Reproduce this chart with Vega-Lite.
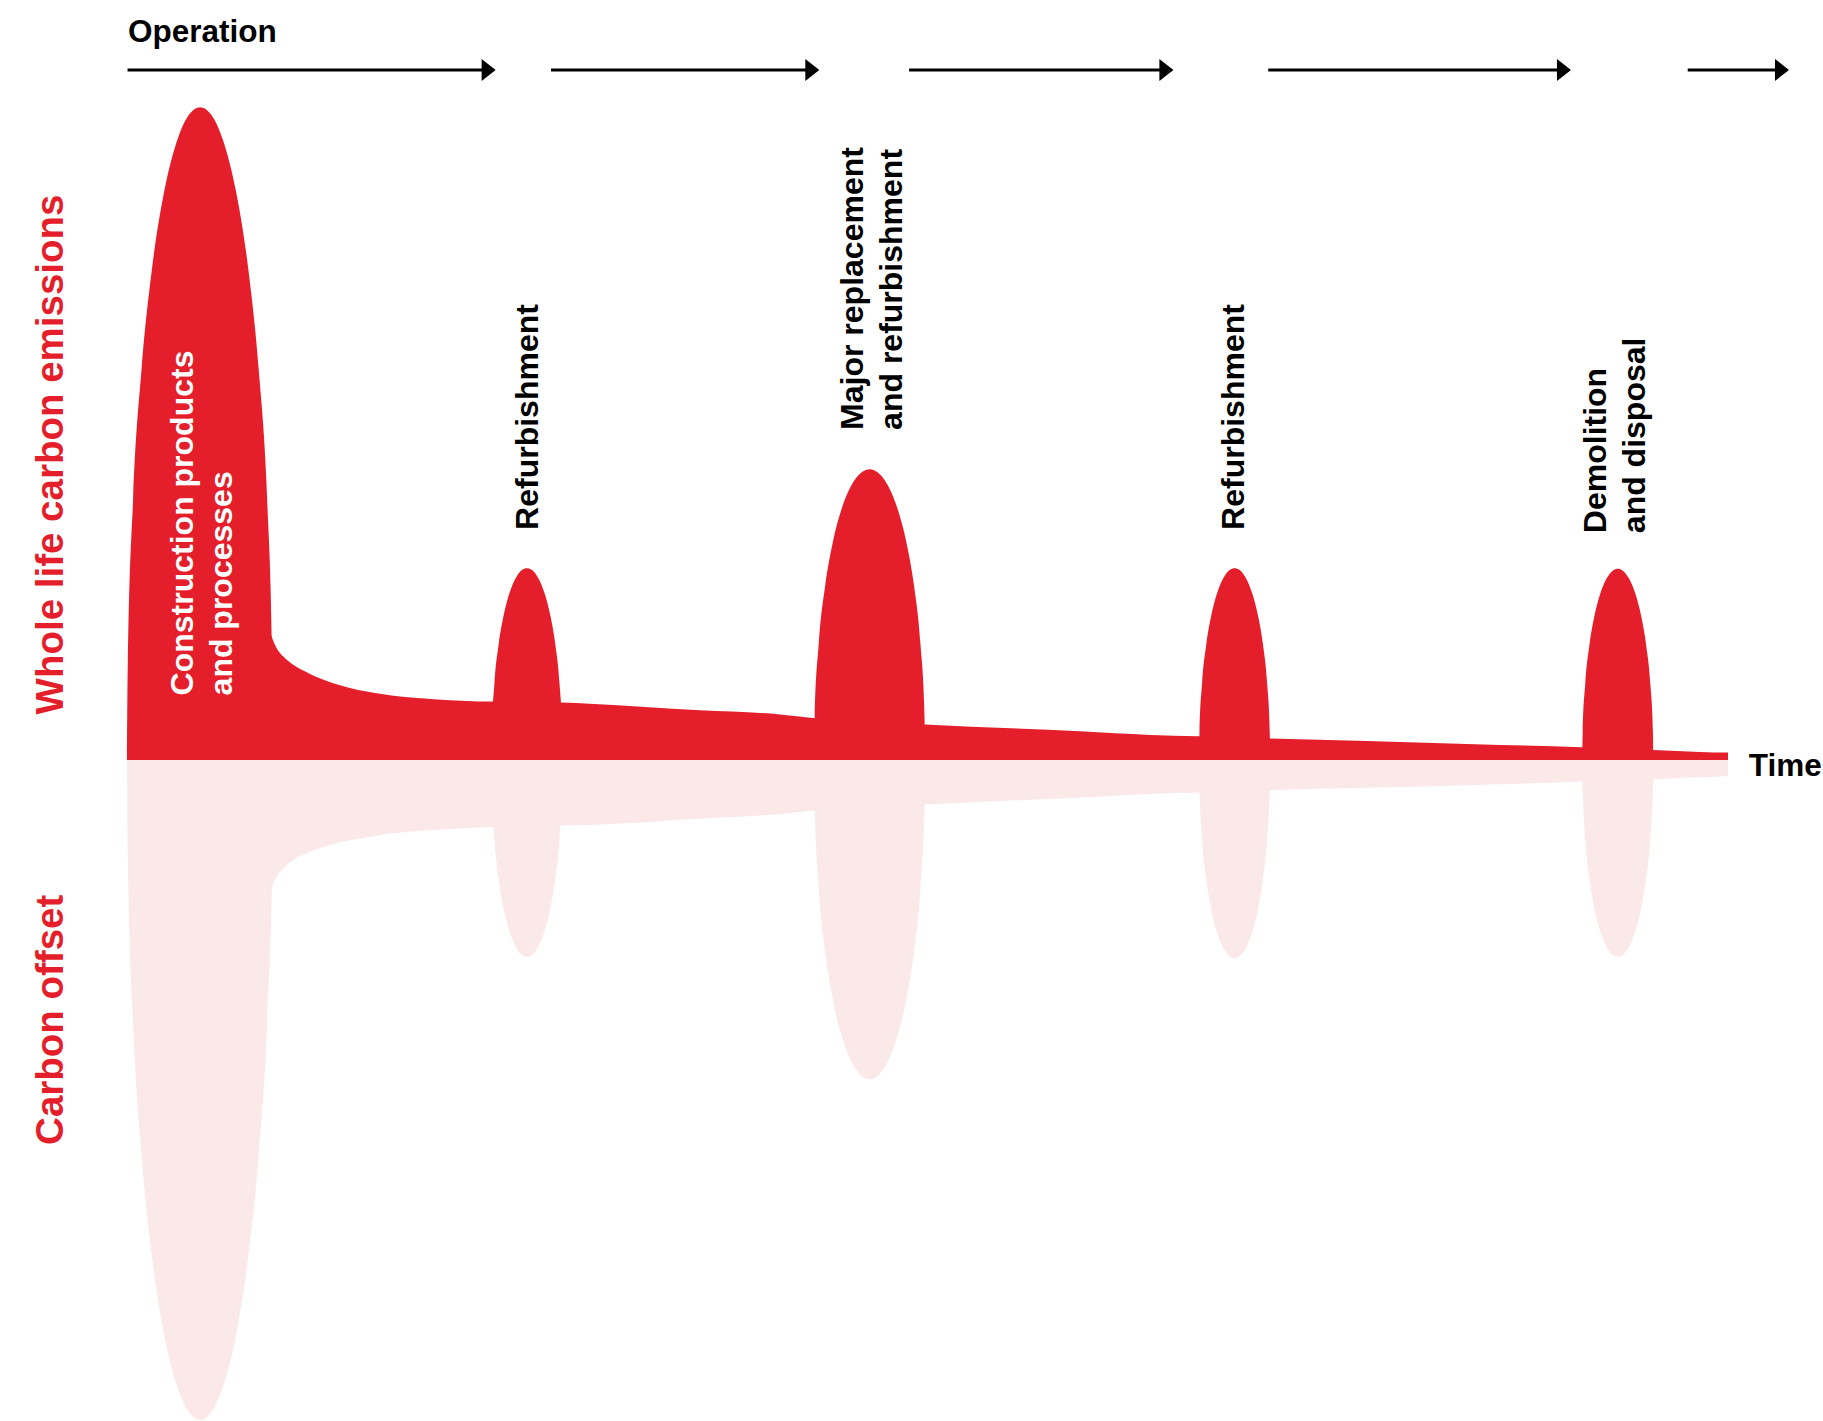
{
  "$schema": "https://vega.github.io/schema/vega-lite/v6.json",
  "width": 1601,
  "height": 1421,
  "autosize": {"type": "none"},
  "padding": {"left": 127, "right": 95, "top": 0, "bottom": 0},
  "background": "white",
  "config": {"view": {"stroke": null}},
  "encoding": {
    "x": {"field": "t", "type": "quantitative", "axis": null, "scale": {"domain": [0, 60], "nice": false, "zero": false}},
    "y": {"field": "v", "type": "quantitative", "axis": null, "scale": {"domain": [-101.7, 116.9], "nice": false, "zero": false}}
  },
  "layer": [
    {
      "data": {"values": [
        {"part": "E-base", "side": "Whole life carbon emissions", "t": 5.36, "v": 19.74},
        {"part": "E-base", "side": "Whole life carbon emissions", "t": 5.42, "v": 18.97},
        {"part": "E-base", "side": "Whole life carbon emissions", "t": 5.61, "v": 17.18},
        {"part": "E-base", "side": "Whole life carbon emissions", "t": 5.86, "v": 15.89},
        {"part": "E-base", "side": "Whole life carbon emissions", "t": 6.23, "v": 14.62},
        {"part": "E-base", "side": "Whole life carbon emissions", "t": 6.86, "v": 13.23},
        {"part": "E-base", "side": "Whole life carbon emissions", "t": 7.73, "v": 11.8},
        {"part": "E-base", "side": "Whole life carbon emissions", "t": 8.98, "v": 10.51},
        {"part": "E-base", "side": "Whole life carbon emissions", "t": 10.23, "v": 9.74},
        {"part": "E-base", "side": "Whole life carbon emissions", "t": 11.48, "v": 9.34},
        {"part": "E-base", "side": "Whole life carbon emissions", "t": 12.73, "v": 9.08},
        {"part": "E-base", "side": "Whole life carbon emissions", "t": 13.63, "v": 8.97},
        {"part": "E-base", "side": "Whole life carbon emissions", "t": 16.29, "v": 8.82},
        {"part": "E-base", "side": "Whole life carbon emissions", "t": 17.35, "v": 8.62},
        {"part": "E-base", "side": "Whole life carbon emissions", "t": 21.48, "v": 7.62},
        {"part": "E-base", "side": "Whole life carbon emissions", "t": 24.47, "v": 7.0},
        {"part": "E-base", "side": "Whole life carbon emissions", "t": 25.71, "v": 6.46},
        {"part": "E-base", "side": "Whole life carbon emissions", "t": 29.91, "v": 5.45},
        {"part": "E-base", "side": "Whole life carbon emissions", "t": 35.72, "v": 4.4},
        {"part": "E-base", "side": "Whole life carbon emissions", "t": 38.34, "v": 3.85},
        {"part": "E-base", "side": "Whole life carbon emissions", "t": 40.15, "v": 3.65},
        {"part": "E-base", "side": "Whole life carbon emissions", "t": 42.84, "v": 3.28},
        {"part": "E-base", "side": "Whole life carbon emissions", "t": 46.47, "v": 2.92},
        {"part": "E-base", "side": "Whole life carbon emissions", "t": 51.46, "v": 2.31},
        {"part": "E-base", "side": "Whole life carbon emissions", "t": 54.5, "v": 1.95},
        {"part": "E-base", "side": "Whole life carbon emissions", "t": 57.19, "v": 1.54},
        {"part": "E-base", "side": "Whole life carbon emissions", "t": 58.96, "v": 1.23},
        {"part": "E-base", "side": "Whole life carbon emissions", "t": 60, "v": 1.12},

        {"part": "E-p1", "side": "Whole life carbon emissions", "t": 0, "v": 0},
        {"part": "E-p1", "side": "Whole life carbon emissions", "t": 0.031, "v": 15.06},
        {"part": "E-p1", "side": "Whole life carbon emissions", "t": 0.229, "v": 40.16},
        {"part": "E-p1", "side": "Whole life carbon emissions", "t": 0.548, "v": 60.24},
        {"part": "E-p1", "side": "Whole life carbon emissions", "t": 0.928, "v": 75.3},
        {"part": "E-p1", "side": "Whole life carbon emissions", "t": 1.389, "v": 87.35},
        {"part": "E-p1", "side": "Whole life carbon emissions", "t": 1.885, "v": 95.38},
        {"part": "E-p1", "side": "Whole life carbon emissions", "t": 2.353, "v": 99.4},
        {"part": "E-p1", "side": "Whole life carbon emissions", "t": 2.74, "v": 100.4},
        {"part": "E-p1", "side": "Whole life carbon emissions", "t": 3.127, "v": 99.4},
        {"part": "E-p1", "side": "Whole life carbon emissions", "t": 3.595, "v": 95.38},
        {"part": "E-p1", "side": "Whole life carbon emissions", "t": 4.091, "v": 87.35},
        {"part": "E-p1", "side": "Whole life carbon emissions", "t": 4.552, "v": 75.3},
        {"part": "E-p1", "side": "Whole life carbon emissions", "t": 4.932, "v": 60.24},
        {"part": "E-p1", "side": "Whole life carbon emissions", "t": 5.251, "v": 40.16},
        {"part": "E-p1", "side": "Whole life carbon emissions", "t": 5.449, "v": 15.06},
        {"part": "E-p1", "side": "Whole life carbon emissions", "t": 5.48, "v": 0},

        {"part": "E-p2", "side": "Whole life carbon emissions", "t": 13.66, "v": 0},
        {"part": "E-p2", "side": "Whole life carbon emissions", "t": 13.675, "v": 4.43},
        {"part": "E-p2", "side": "Whole life carbon emissions", "t": 13.771, "v": 11.8},
        {"part": "E-p2", "side": "Whole life carbon emissions", "t": 13.926, "v": 17.7},
        {"part": "E-p2", "side": "Whole life carbon emissions", "t": 14.11, "v": 22.13},
        {"part": "E-p2", "side": "Whole life carbon emissions", "t": 14.334, "v": 25.67},
        {"part": "E-p2", "side": "Whole life carbon emissions", "t": 14.575, "v": 28.03},
        {"part": "E-p2", "side": "Whole life carbon emissions", "t": 14.802, "v": 29.21},
        {"part": "E-p2", "side": "Whole life carbon emissions", "t": 14.99, "v": 29.5},
        {"part": "E-p2", "side": "Whole life carbon emissions", "t": 15.178, "v": 29.21},
        {"part": "E-p2", "side": "Whole life carbon emissions", "t": 15.405, "v": 28.03},
        {"part": "E-p2", "side": "Whole life carbon emissions", "t": 15.646, "v": 25.67},
        {"part": "E-p2", "side": "Whole life carbon emissions", "t": 15.87, "v": 22.13},
        {"part": "E-p2", "side": "Whole life carbon emissions", "t": 16.054, "v": 17.7},
        {"part": "E-p2", "side": "Whole life carbon emissions", "t": 16.209, "v": 11.8},
        {"part": "E-p2", "side": "Whole life carbon emissions", "t": 16.305, "v": 4.43},
        {"part": "E-p2", "side": "Whole life carbon emissions", "t": 16.32, "v": 0},

        {"part": "E-p3", "side": "Whole life carbon emissions", "t": 25.75, "v": 0},
        {"part": "E-p3", "side": "Whole life carbon emissions", "t": 25.773, "v": 6.71},
        {"part": "E-p3", "side": "Whole life carbon emissions", "t": 25.924, "v": 17.88},
        {"part": "E-p3", "side": "Whole life carbon emissions", "t": 26.166, "v": 26.82},
        {"part": "E-p3", "side": "Whole life carbon emissions", "t": 26.454, "v": 33.53},
        {"part": "E-p3", "side": "Whole life carbon emissions", "t": 26.804, "v": 38.89},
        {"part": "E-p3", "side": "Whole life carbon emissions", "t": 27.181, "v": 42.47},
        {"part": "E-p3", "side": "Whole life carbon emissions", "t": 27.537, "v": 44.25},
        {"part": "E-p3", "side": "Whole life carbon emissions", "t": 27.83, "v": 44.7},
        {"part": "E-p3", "side": "Whole life carbon emissions", "t": 28.123, "v": 44.25},
        {"part": "E-p3", "side": "Whole life carbon emissions", "t": 28.479, "v": 42.47},
        {"part": "E-p3", "side": "Whole life carbon emissions", "t": 28.856, "v": 38.89},
        {"part": "E-p3", "side": "Whole life carbon emissions", "t": 29.206, "v": 33.53},
        {"part": "E-p3", "side": "Whole life carbon emissions", "t": 29.494, "v": 26.82},
        {"part": "E-p3", "side": "Whole life carbon emissions", "t": 29.736, "v": 17.88},
        {"part": "E-p3", "side": "Whole life carbon emissions", "t": 29.887, "v": 6.71},
        {"part": "E-p3", "side": "Whole life carbon emissions", "t": 29.91, "v": 0},

        {"part": "E-p4", "side": "Whole life carbon emissions", "t": 40.18, "v": 0},
        {"part": "E-p4", "side": "Whole life carbon emissions", "t": 40.195, "v": 4.43},
        {"part": "E-p4", "side": "Whole life carbon emissions", "t": 40.291, "v": 11.8},
        {"part": "E-p4", "side": "Whole life carbon emissions", "t": 40.446, "v": 17.7},
        {"part": "E-p4", "side": "Whole life carbon emissions", "t": 40.63, "v": 22.13},
        {"part": "E-p4", "side": "Whole life carbon emissions", "t": 40.854, "v": 25.67},
        {"part": "E-p4", "side": "Whole life carbon emissions", "t": 41.095, "v": 28.03},
        {"part": "E-p4", "side": "Whole life carbon emissions", "t": 41.322, "v": 29.21},
        {"part": "E-p4", "side": "Whole life carbon emissions", "t": 41.51, "v": 29.5},
        {"part": "E-p4", "side": "Whole life carbon emissions", "t": 41.698, "v": 29.21},
        {"part": "E-p4", "side": "Whole life carbon emissions", "t": 41.925, "v": 28.03},
        {"part": "E-p4", "side": "Whole life carbon emissions", "t": 42.166, "v": 25.67},
        {"part": "E-p4", "side": "Whole life carbon emissions", "t": 42.39, "v": 22.13},
        {"part": "E-p4", "side": "Whole life carbon emissions", "t": 42.574, "v": 17.7},
        {"part": "E-p4", "side": "Whole life carbon emissions", "t": 42.729, "v": 11.8},
        {"part": "E-p4", "side": "Whole life carbon emissions", "t": 42.825, "v": 4.43},
        {"part": "E-p4", "side": "Whole life carbon emissions", "t": 42.84, "v": 0},

        {"part": "E-p5", "side": "Whole life carbon emissions", "t": 54.54, "v": 0},
        {"part": "E-p5", "side": "Whole life carbon emissions", "t": 54.555, "v": 4.41},
        {"part": "E-p5", "side": "Whole life carbon emissions", "t": 54.651, "v": 11.76},
        {"part": "E-p5", "side": "Whole life carbon emissions", "t": 54.806, "v": 17.64},
        {"part": "E-p5", "side": "Whole life carbon emissions", "t": 54.99, "v": 22.05},
        {"part": "E-p5", "side": "Whole life carbon emissions", "t": 55.214, "v": 25.58},
        {"part": "E-p5", "side": "Whole life carbon emissions", "t": 55.455, "v": 27.93},
        {"part": "E-p5", "side": "Whole life carbon emissions", "t": 55.682, "v": 29.11},
        {"part": "E-p5", "side": "Whole life carbon emissions", "t": 55.87, "v": 29.4},
        {"part": "E-p5", "side": "Whole life carbon emissions", "t": 56.058, "v": 29.11},
        {"part": "E-p5", "side": "Whole life carbon emissions", "t": 56.285, "v": 27.93},
        {"part": "E-p5", "side": "Whole life carbon emissions", "t": 56.526, "v": 25.58},
        {"part": "E-p5", "side": "Whole life carbon emissions", "t": 56.75, "v": 22.05},
        {"part": "E-p5", "side": "Whole life carbon emissions", "t": 56.934, "v": 17.64},
        {"part": "E-p5", "side": "Whole life carbon emissions", "t": 57.089, "v": 11.76},
        {"part": "E-p5", "side": "Whole life carbon emissions", "t": 57.185, "v": 4.41},
        {"part": "E-p5", "side": "Whole life carbon emissions", "t": 57.2, "v": 0},

        {"part": "O-base", "side": "Carbon offset", "t": 5.39, "v": -21.5},
        {"part": "O-base", "side": "Carbon offset", "t": 5.42, "v": -20.0},
        {"part": "O-base", "side": "Carbon offset", "t": 5.61, "v": -17.95},
        {"part": "O-base", "side": "Carbon offset", "t": 5.86, "v": -16.66},
        {"part": "O-base", "side": "Carbon offset", "t": 6.23, "v": -15.38},
        {"part": "O-base", "side": "Carbon offset", "t": 6.86, "v": -14.11},
        {"part": "O-base", "side": "Carbon offset", "t": 7.73, "v": -12.92},
        {"part": "O-base", "side": "Carbon offset", "t": 8.98, "v": -11.89},
        {"part": "O-base", "side": "Carbon offset", "t": 10.23, "v": -11.18},
        {"part": "O-base", "side": "Carbon offset", "t": 11.48, "v": -10.77},
        {"part": "O-base", "side": "Carbon offset", "t": 12.73, "v": -10.46},
        {"part": "O-base", "side": "Carbon offset", "t": 13.63, "v": -10.35},
        {"part": "O-base", "side": "Carbon offset", "t": 16.29, "v": -10.08},
        {"part": "O-base", "side": "Carbon offset", "t": 17.35, "v": -10.0},
        {"part": "O-base", "side": "Carbon offset", "t": 21.48, "v": -9.0},
        {"part": "O-base", "side": "Carbon offset", "t": 24.47, "v": -8.31},
        {"part": "O-base", "side": "Carbon offset", "t": 25.71, "v": -7.77},
        {"part": "O-base", "side": "Carbon offset", "t": 29.91, "v": -6.86},
        {"part": "O-base", "side": "Carbon offset", "t": 35.72, "v": -5.78},
        {"part": "O-base", "side": "Carbon offset", "t": 38.34, "v": -5.23},
        {"part": "O-base", "side": "Carbon offset", "t": 40.15, "v": -5.03},
        {"part": "O-base", "side": "Carbon offset", "t": 42.84, "v": -4.62},
        {"part": "O-base", "side": "Carbon offset", "t": 46.47, "v": -4.3},
        {"part": "O-base", "side": "Carbon offset", "t": 51.46, "v": -3.74},
        {"part": "O-base", "side": "Carbon offset", "t": 54.5, "v": -3.34},
        {"part": "O-base", "side": "Carbon offset", "t": 57.19, "v": -2.97},
        {"part": "O-base", "side": "Carbon offset", "t": 58.96, "v": -2.66},
        {"part": "O-base", "side": "Carbon offset", "t": 60, "v": -2.46},

        {"part": "O-p1", "side": "Carbon offset", "t": 0, "v": 0},
        {"part": "O-p1", "side": "Carbon offset", "t": 0.031, "v": -15.23},
        {"part": "O-p1", "side": "Carbon offset", "t": 0.229, "v": -40.6},
        {"part": "O-p1", "side": "Carbon offset", "t": 0.548, "v": -60.9},
        {"part": "O-p1", "side": "Carbon offset", "t": 0.928, "v": -76.13},
        {"part": "O-p1", "side": "Carbon offset", "t": 1.389, "v": -88.31},
        {"part": "O-p1", "side": "Carbon offset", "t": 1.885, "v": -96.43},
        {"part": "O-p1", "side": "Carbon offset", "t": 2.353, "v": -100.49},
        {"part": "O-p1", "side": "Carbon offset", "t": 2.74, "v": -101.5},
        {"part": "O-p1", "side": "Carbon offset", "t": 3.127, "v": -100.49},
        {"part": "O-p1", "side": "Carbon offset", "t": 3.595, "v": -96.43},
        {"part": "O-p1", "side": "Carbon offset", "t": 4.091, "v": -88.31},
        {"part": "O-p1", "side": "Carbon offset", "t": 4.552, "v": -76.13},
        {"part": "O-p1", "side": "Carbon offset", "t": 4.932, "v": -60.9},
        {"part": "O-p1", "side": "Carbon offset", "t": 5.251, "v": -40.6},
        {"part": "O-p1", "side": "Carbon offset", "t": 5.449, "v": -15.23},
        {"part": "O-p1", "side": "Carbon offset", "t": 5.48, "v": 0},

        {"part": "O-p2", "side": "Carbon offset", "t": 13.66, "v": 0},
        {"part": "O-p2", "side": "Carbon offset", "t": 13.675, "v": -4.55},
        {"part": "O-p2", "side": "Carbon offset", "t": 13.771, "v": -12.12},
        {"part": "O-p2", "side": "Carbon offset", "t": 13.926, "v": -18.18},
        {"part": "O-p2", "side": "Carbon offset", "t": 14.11, "v": -22.73},
        {"part": "O-p2", "side": "Carbon offset", "t": 14.334, "v": -26.36},
        {"part": "O-p2", "side": "Carbon offset", "t": 14.575, "v": -28.79},
        {"part": "O-p2", "side": "Carbon offset", "t": 14.802, "v": -30.0},
        {"part": "O-p2", "side": "Carbon offset", "t": 14.99, "v": -30.3},
        {"part": "O-p2", "side": "Carbon offset", "t": 15.178, "v": -30.0},
        {"part": "O-p2", "side": "Carbon offset", "t": 15.405, "v": -28.79},
        {"part": "O-p2", "side": "Carbon offset", "t": 15.646, "v": -26.36},
        {"part": "O-p2", "side": "Carbon offset", "t": 15.87, "v": -22.73},
        {"part": "O-p2", "side": "Carbon offset", "t": 16.054, "v": -18.18},
        {"part": "O-p2", "side": "Carbon offset", "t": 16.209, "v": -12.12},
        {"part": "O-p2", "side": "Carbon offset", "t": 16.305, "v": -4.55},
        {"part": "O-p2", "side": "Carbon offset", "t": 16.32, "v": 0},

        {"part": "O-p3", "side": "Carbon offset", "t": 25.75, "v": 0},
        {"part": "O-p3", "side": "Carbon offset", "t": 25.773, "v": -7.37},
        {"part": "O-p3", "side": "Carbon offset", "t": 25.924, "v": -19.64},
        {"part": "O-p3", "side": "Carbon offset", "t": 26.166, "v": -29.46},
        {"part": "O-p3", "side": "Carbon offset", "t": 26.454, "v": -36.83},
        {"part": "O-p3", "side": "Carbon offset", "t": 26.804, "v": -42.72},
        {"part": "O-p3", "side": "Carbon offset", "t": 27.181, "v": -46.65},
        {"part": "O-p3", "side": "Carbon offset", "t": 27.537, "v": -48.61},
        {"part": "O-p3", "side": "Carbon offset", "t": 27.83, "v": -49.1},
        {"part": "O-p3", "side": "Carbon offset", "t": 28.123, "v": -48.61},
        {"part": "O-p3", "side": "Carbon offset", "t": 28.479, "v": -46.65},
        {"part": "O-p3", "side": "Carbon offset", "t": 28.856, "v": -42.72},
        {"part": "O-p3", "side": "Carbon offset", "t": 29.206, "v": -36.83},
        {"part": "O-p3", "side": "Carbon offset", "t": 29.494, "v": -29.46},
        {"part": "O-p3", "side": "Carbon offset", "t": 29.736, "v": -19.64},
        {"part": "O-p3", "side": "Carbon offset", "t": 29.887, "v": -7.37},
        {"part": "O-p3", "side": "Carbon offset", "t": 29.91, "v": 0},

        {"part": "O-p4", "side": "Carbon offset", "t": 40.18, "v": 0},
        {"part": "O-p4", "side": "Carbon offset", "t": 40.195, "v": -4.58},
        {"part": "O-p4", "side": "Carbon offset", "t": 40.291, "v": -12.2},
        {"part": "O-p4", "side": "Carbon offset", "t": 40.446, "v": -18.3},
        {"part": "O-p4", "side": "Carbon offset", "t": 40.63, "v": -22.88},
        {"part": "O-p4", "side": "Carbon offset", "t": 40.854, "v": -26.54},
        {"part": "O-p4", "side": "Carbon offset", "t": 41.095, "v": -28.98},
        {"part": "O-p4", "side": "Carbon offset", "t": 41.322, "v": -30.2},
        {"part": "O-p4", "side": "Carbon offset", "t": 41.51, "v": -30.5},
        {"part": "O-p4", "side": "Carbon offset", "t": 41.698, "v": -30.2},
        {"part": "O-p4", "side": "Carbon offset", "t": 41.925, "v": -28.98},
        {"part": "O-p4", "side": "Carbon offset", "t": 42.166, "v": -26.54},
        {"part": "O-p4", "side": "Carbon offset", "t": 42.39, "v": -22.88},
        {"part": "O-p4", "side": "Carbon offset", "t": 42.574, "v": -18.3},
        {"part": "O-p4", "side": "Carbon offset", "t": 42.729, "v": -12.2},
        {"part": "O-p4", "side": "Carbon offset", "t": 42.825, "v": -4.58},
        {"part": "O-p4", "side": "Carbon offset", "t": 42.84, "v": 0},

        {"part": "O-p5", "side": "Carbon offset", "t": 54.54, "v": 0},
        {"part": "O-p5", "side": "Carbon offset", "t": 54.555, "v": -4.55},
        {"part": "O-p5", "side": "Carbon offset", "t": 54.651, "v": -12.12},
        {"part": "O-p5", "side": "Carbon offset", "t": 54.806, "v": -18.18},
        {"part": "O-p5", "side": "Carbon offset", "t": 54.99, "v": -22.73},
        {"part": "O-p5", "side": "Carbon offset", "t": 55.214, "v": -26.36},
        {"part": "O-p5", "side": "Carbon offset", "t": 55.455, "v": -28.79},
        {"part": "O-p5", "side": "Carbon offset", "t": 55.682, "v": -30.0},
        {"part": "O-p5", "side": "Carbon offset", "t": 55.87, "v": -30.3},
        {"part": "O-p5", "side": "Carbon offset", "t": 56.058, "v": -30.0},
        {"part": "O-p5", "side": "Carbon offset", "t": 56.285, "v": -28.79},
        {"part": "O-p5", "side": "Carbon offset", "t": 56.526, "v": -26.36},
        {"part": "O-p5", "side": "Carbon offset", "t": 56.75, "v": -22.73},
        {"part": "O-p5", "side": "Carbon offset", "t": 56.934, "v": -18.18},
        {"part": "O-p5", "side": "Carbon offset", "t": 57.089, "v": -12.12},
        {"part": "O-p5", "side": "Carbon offset", "t": 57.185, "v": -4.55},
        {"part": "O-p5", "side": "Carbon offset", "t": 57.2, "v": 0}
      ]},
      "mark": {"type": "area", "interpolate": "monotone", "opacity": 1},
      "encoding": {
        "y2": {"datum": 0},
        "detail": {"field": "part", "type": "nominal"},
        "color": {"field": "side", "type": "nominal", "legend": null,
          "scale": {"domain": ["Whole life carbon emissions", "Carbon offset"], "range": ["#E41F2B", "#FBE8E9"]}}
      }
    },
    {
      "data": {"values": [
        {"t": 0.02, "t2": 13.74, "v": 106.15},
        {"t": 15.89, "t2": 25.87, "v": 106.15},
        {"t": 29.31, "t2": 39.14, "v": 106.15},
        {"t": 42.77, "t2": 54.04, "v": 106.15},
        {"t": 58.49, "t2": 62.21, "v": 106.15}
      ]},
      "mark": {"type": "rule", "color": "black", "strokeWidth": 3},
      "encoding": {
        "x2": {"field": "t2"}
      }
    },
    {
      "data": {"values": [
        {"t": 0.02, "t2": 13.74, "v": 106.15},
        {"t": 15.89, "t2": 25.87, "v": 106.15},
        {"t": 29.31, "t2": 39.14, "v": 106.15},
        {"t": 42.77, "t2": 54.04, "v": 106.15},
        {"t": 58.49, "t2": 62.21, "v": 106.15}
      ]},
      "mark": {"type": "point", "shape": "M-0.96,-0.88L0.16,0L-0.96,0.88Z", "size": 625, "filled": true, "color": "black", "opacity": 1, "strokeWidth": 0},
      "encoding": {
        "x": {"field": "t2", "type": "quantitative", "axis": null, "scale": {"domain": [0, 60], "nice": false, "zero": false}}
      }
    },
    {
      "data": {"values": [
        {"label": "Refurbishment", "t": 15.42, "v": 35.38},
        {"label": "Major replacement\nand refurbishment", "t": 27.58, "v": 50.77},
        {"label": "Refurbishment", "t": 41.88, "v": 35.38},
        {"label": "Demolition\nand disposal", "t": 55.41, "v": 34.88}
      ]},
      "mark": {"type": "text", "angle": 270, "align": "left", "baseline": "alphabetic", "font": "Liberation Sans", "fontWeight": "bold", "fontSize": 32, "lineHeight": 39, "lineBreak": "\n", "color": "black"},
      "encoding": {"text": {"field": "label", "type": "nominal"}}
    },
    {
      "data": {"values": [
        {"label": "Construction products\nand processes", "t": 2.47, "v": 9.92}
      ]},
      "mark": {"type": "text", "angle": 270, "align": "left", "baseline": "alphabetic", "font": "Liberation Sans", "fontWeight": "bold", "fontSize": 32, "lineHeight": 39, "lineBreak": "\n", "color": "white"},
      "encoding": {"text": {"field": "label", "type": "nominal"}}
    },
    {
      "data": {"values": [
        {"label": "Whole life carbon emissions", "t": -2.38, "v": 7.0},
        {"label": "Carbon offset", "t": -2.38, "v": -59.23}
      ]},
      "mark": {"type": "text", "angle": 270, "align": "left", "baseline": "alphabetic", "font": "Liberation Sans", "fontWeight": "bold", "fontSize": 38.5, "color": "#E41F2B"},
      "encoding": {"text": {"field": "label", "type": "nominal"}}
    },
    {
      "data": {"values": [
        {"label": "Operation", "t": 0.04, "v": 110.42},
        {"label": "Time", "t": 60.78, "v": -2.42}
      ]},
      "mark": {"type": "text", "align": "left", "baseline": "alphabetic", "font": "Liberation Sans", "fontWeight": "bold", "fontSize": 31.5, "color": "black"},
      "encoding": {"text": {"field": "label", "type": "nominal"}}
    }
  ]
}
